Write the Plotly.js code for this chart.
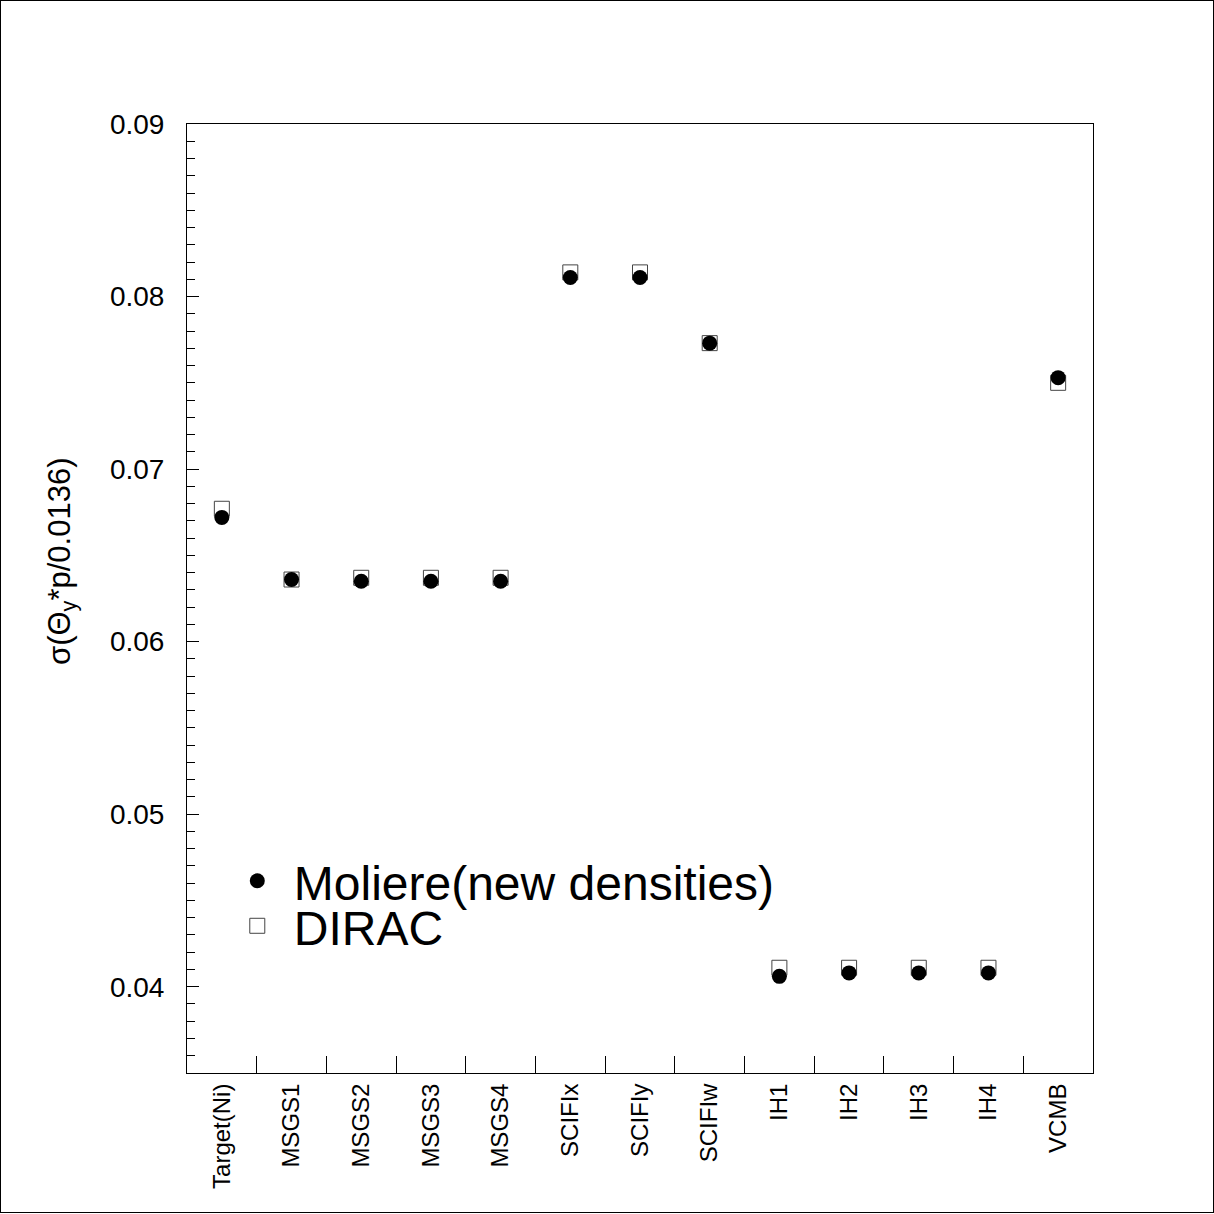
<!DOCTYPE html>
<html>
<head>
<meta charset="utf-8">
<script src="https://cdn.plot.ly/plotly-3.0.1.min.js"></script>
<style>
html,body{margin:0;padding:0;background:#fff;}
#plot{width:1212px;height:1211px;border:1px solid #000;}
</style>
</head>
<body>
<div id="plot"></div>
<script>
const categories = ["Target(Ni)","MSGS1","MSGS2","MSGS3","MSGS4","SCIFIx","SCIFIy","SCIFIw","IH1","IH2","IH3","IH4","VCMB"];
const moliere = [0.0672,0.0636,0.0635,0.0635,0.0635,0.0811,0.0811,0.0773,0.0406,0.0408,0.0408,0.0408,0.0753];
const dirac   = [0.0677,0.0636,0.0637,0.0637,0.0637,0.0814,0.0814,0.0773,0.0411,0.0411,0.0411,0.0411,0.0750];
const yTitle = "σ(Θ<sub>y</sub>*p/0.0136)";

const FONT = "Liberation Sans, Arial, sans-serif";

const traces = [
  {
    x: categories, y: dirac, type: "scatter", mode: "markers", name: "DIRAC",
    marker: {symbol: "square-open", size: 15, color: "#444", line: {width: 1, color: "#444"}},
    legend: "legend2"
  },
  {
    x: categories, y: moliere, type: "scatter", mode: "markers", name: "Moliere(new densities)",
    marker: {symbol: "circle", size: 15, color: "#000"},
    legend: "legend"
  }
];

const layout = {
  width: 1212, height: 1211,
  margin: {l: 186, r: 120, t: 123, b: 139},
  paper_bgcolor: "#fff", plot_bgcolor: "#fff",
  font: {family: FONT, color: "#000"},
  showlegend: true,
  legend: {
    x: 0.0373, y: 0.2022, xanchor: "left", yanchor: "middle",
    bgcolor: "rgba(0,0,0,0)", borderwidth: 0,
    font: {family: FONT, size: 48, color: "#000"}, itemwidth: 63
  },
  legend2: {
    x: 0.0373, y: 0.1548, xanchor: "left", yanchor: "middle",
    bgcolor: "rgba(0,0,0,0)", borderwidth: 0,
    font: {family: FONT, size: 48, color: "#000"}, itemwidth: 63
  },
  xaxis: {
    type: "category",
    range: [-0.5, 12.5],
    tickson: "boundaries",
    ticks: "inside", ticklen: 17, tickwidth: 1, tickcolor: "#000",
    tickangle: -90,
    tickfont: {family: FONT, size: 24, color: "#000"},
    showline: true, linecolor: "#000", linewidth: 1, mirror: true,
    showgrid: false, zeroline: false
  },
  yaxis: {
    range: [0.035, 0.09],
    tick0: 0.04, dtick: 0.01, tickformat: ".2f",
    ticks: "inside", ticklen: 12, tickwidth: 1, tickcolor: "#000",
    minor: {dtick: 0.001, ticks: "inside", ticklen: 8, tickwidth: 1, tickcolor: "#000", showgrid: false},
    tickfont: {family: FONT, size: 28, color: "#000"},
    ticklabelstandoff: 16,
    showline: true, linecolor: "#000", linewidth: 1, mirror: true,
    showgrid: false, zeroline: false
  },
  annotations: [
    {
      text: yTitle, textangle: -90, showarrow: false,
      xref: "paper", yref: "paper", x: -0.138, y: 0.5395,
      xanchor: "center", yanchor: "middle",
      font: {family: FONT, size: 31, color: "#000"}
    }
  ]
};

Plotly.newPlot("plot", traces, layout, {displayModeBar: false, staticPlot: true});
</script>
</body>
</html>
